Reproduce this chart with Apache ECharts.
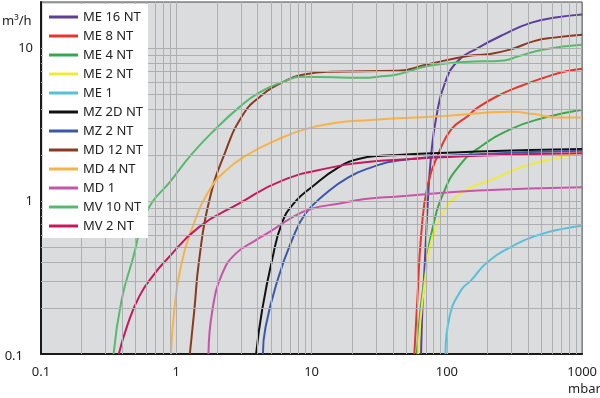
<!DOCTYPE html>
<html><head><meta charset="utf-8">
<script src="https://cdn.jsdelivr.net/npm/echarts@6/dist/echarts.min.js"></script>
<style>html,body{margin:0;padding:0;background:#fff}#c{width:600px;height:398px}</style>
</head><body><div id="c"></div>
<script>
const seriesNames = ['ME 16 NT','ME 8 NT','ME 4 NT','ME 2 NT','ME 1','MZ 2D NT','MZ 2 NT','MD 12 NT','MD 4 NT','MD 1','MV 10 NT','MV 2 NT'];
const seriesColors = ['#5b3f9b','#e6362b','#3aa84a','#f2ea3a','#55c1d8','#111111','#3a58aa','#8a3a20','#f7b24a','#c655a8','#58b86c','#c6185c'];
const xTickLabels = [0.1, 1, 10, 100, 1000];
const yTickLabels = [0.1, 1, 10];
const minorGridX = [0.2,0.3,0.4,0.5,0.6,0.7,0.8,0.9,1,2,3,4,5,6,7,8,9,10,20,30,40,50,60,70,80,90,100,200,300,400,500,600,700,800,900];
const minorGridY = [0.2,0.3,0.4,0.5,0.6,0.7,0.8,0.9,1,2,3,4,5,6,7,8,9,10];

const me16 = [[64.5,0.1],[66,0.2],[68.5,0.37],[72.4,1.0],[76.7,2.03],[83.4,3.5],[96,5.8],[120,8.2],[169,10.0],[265,12.3],[417,14.6],[654,15.9],[1000,16.6]];
const me8 = [[57.5,0.1],[60.5,0.225],[64.7,0.61],[72.4,1.29],[88,2.1],[108,2.95],[143,3.6],[169,4.08],[237,4.86],[352,5.65],[522,6.4],[733,7.0],[1000,7.33]];
const me4 = [[60,0.1],[64,0.2],[70.5,0.37],[76.7,0.61],[96,1.17],[127,1.75],[169,2.2],[297,2.95],[522,3.5],[1000,3.95]];
const me2 = [[61.5,0.1],[64,0.17],[68.5,0.29],[76.7,0.55],[96,0.87],[108,1.0],[143,1.2],[225,1.4],[352,1.66],[733,1.96],[1000,2.08]];
const me1 = [[97.7,0.1],[104.7,0.175],[127,0.26],[151,0.303],[200,0.4],[297,0.5],[467,0.596],[733,0.66],[1000,0.69]];
const mz2d = [[3.89,0.1],[4.31,0.194],[5.1,0.41],[6.05,0.72],[7.5,0.98],[10,1.23],[15.8,1.66],[22.2,1.88],[32.9,1.98],[43.7,2.0],[169,2.11],[1000,2.19]];
const mz2 = [[4.37,0.1],[4.57,0.15],[5.71,0.32],[7.16,0.553],[9.0,0.826],[12.6,1.11],[18.7,1.43],[27.7,1.66],[43.7,1.84],[169,2.02],[1000,2.13]];
const md12 = [[1.26,0.1],[1.36,0.194],[1.47,0.4],[1.75,1.0],[2.32,2.13],[3.07,3.6],[4.07,4.74],[6.05,5.95],[9.0,6.74],[14.1,7.0],[43.7,7.1],[72.4,7.83],[143,8.87],[200,9.1],[297,9.8],[441,11.1],[620,11.7],[1000,12.2]];
const md4 = [[0.914,0.1],[0.967,0.194],[1.08,0.37],[1.32,0.675],[1.75,1.17],[2.32,1.58],[3.44,2.03],[5.4,2.48],[9.0,2.95],[15.8,3.26],[27.7,3.38],[43.7,3.47],[96,3.6],[297,3.83],[441,3.7],[654,3.52],[1000,3.52]];
const md1 = [[1.73,0.1],[1.85,0.194],[2.19,0.336],[2.75,0.453],[3.85,0.553],[5.1,0.643],[7.16,0.78],[10,0.89],[15.8,0.96],[24.8,1.03],[43.7,1.07],[169,1.17],[1000,1.23]];
const mv10 = [[0.344,0.1],[0.394,0.225],[0.474,0.41],[0.612,0.867],[0.914,1.36],[1.31,2.04],[1.96,2.97],[2.9,4.08],[4.07,5.1],[6.41,6.1],[8.4,6.5],[24.8,6.4],[31,6.5],[43.7,6.75],[72.4,7.64],[135,8.1],[265,8.3],[333,8.8],[522,9.8],[1000,10.5]];
const mv2 = [[0.376,0.1],[0.436,0.155],[0.534,0.239],[0.678,0.328],[0.84,0.41],[1.47,0.675],[2.9,0.96],[6.05,1.36],[14.1,1.66],[24.8,1.79],[43.7,1.86],[169,1.98],[1000,2.05]];
const seriesData = [me16, me8, me4, me2, me1, mz2d, mz2, md12, md4, md1, mv10, mv2];

const FONT = 'Noto Sans';
const chart = echarts.init(document.getElementById('c'), null, {renderer: 'canvas'});
function findTick(v, list) { return list.find(t => Math.abs(Math.log10(v) - Math.log10(t)) < 1e-6); }

const series = [{
  type: 'line', data: [], silent: true, z: 1,
  markLine: {
    silent: true, symbol: ['none','none'], label: {show: false},
    lineStyle: {color: '#aeafb1', width: 1, type: 'solid'},
    animation: false,
    data: minorGridX.map(v => ({xAxis: v})).concat(minorGridY.map(v => ({yAxis: v})))
  }
}];
seriesNames.forEach((n, i) => {
  series.push({
    name: n, type: 'line', data: seriesData[i], z: 3,
    showSymbol: false, symbol: 'none', smooth: 0.5,
    lineStyle: {width: 2, color: seriesColors[i]}, itemStyle: {color: seriesColors[i]},
    animation: false
  });
});

chart.setOption({
  animation: false,
  textStyle: {fontFamily: FONT},
  grid: {left: 41, right: 15, top: 2, bottom: 44, show: true, backgroundColor: '#dbdcdd', borderColor: '#444', borderWidth: 1},
  xAxis: {
    type: 'log', logBase: 10, min: 0.1, max: 1000,
    axisLine: {show: true, onZero: false, lineStyle: {color: '#1a1a1a', width: 2}},
    axisTick: {show: false}, splitLine: {show: false},
    axisLabel: {fontFamily: FONT, fontSize: 13, color: '#222', margin: 12,
      formatter: v => { const t = findTick(v, xTickLabels); return t === undefined ? '' : String(t); }}
  },
  yAxis: {
    type: 'log', logBase: 10, min: 0.1, max: 20,
    axisLine: {show: true, onZero: false, lineStyle: {color: '#1a1a1a', width: 2}},
    axisTick: {show: false}, splitLine: {show: false},
    axisLabel: {fontFamily: FONT, fontSize: 13, color: '#222', margin: 8,
      formatter: v => {
        const t = findTick(v, yTickLabels);
        if (t === undefined) return '';
        return t === 0.1 ? '{s|0.1}' : String(t);
      },
      rich: {s: {fontFamily: FONT, fontSize: 13, color: '#222', padding: [4, 10, 0, 0]}}
    }
  },
  legend: {
    show: true, orient: 'vertical', left: 43, top: 4, zlevel: 2, z: 10,
    backgroundColor: '#ffffff', padding: [6, 5, 5, 6],
    icon: 'rect', itemWidth: 29, itemHeight: 3, itemGap: 5,
    selectedMode: false,
    textStyle: {fontFamily: FONT, fontSize: 13, color: '#222', lineHeight: 14},
    data: seriesNames
  },
  graphic: [
    {type: 'text', left: 2, top: 15, style: {text: 'm³/h', font: '13px "Noto Sans"', fill: '#222'}},
    {type: 'text', left: 568, top: 383, style: {text: 'mbar', font: '13px "Noto Sans"', fill: '#222'}}
  ],
  series: series
});
</script></body></html>
